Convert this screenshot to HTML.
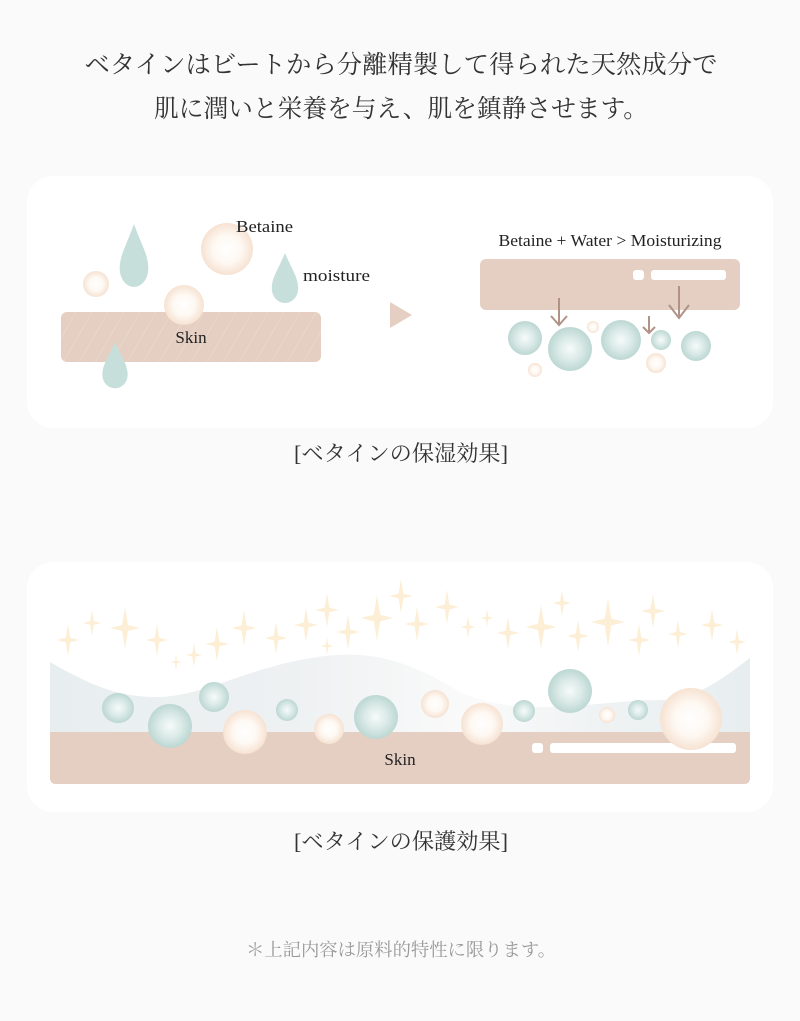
<!DOCTYPE html>
<html><head><meta charset="utf-8"><style>
html,body{margin:0;padding:0;background:#fafafa;}
body{width:800px;height:1016px;overflow:hidden;}
</style></head><body>
<svg width="800" height="1016" viewBox="0 0 800 1016" xmlns="http://www.w3.org/2000/svg">
<defs>
<radialGradient id="pe" cx="50%" cy="50%" r="50%"><stop offset="0" stop-color="#fff"/><stop offset="0.55" stop-color="#fef8f2"/><stop offset="1" stop-color="#f6e2d2"/></radialGradient>
<radialGradient id="te" cx="50%" cy="50%" r="50%"><stop offset="0" stop-color="#f6fbfa"/><stop offset="0.5" stop-color="#dcebe8"/><stop offset="1" stop-color="#bcd7d2"/></radialGradient>
<linearGradient id="band" x1="0" x2="1" y1="0" y2="0"><stop offset="0" stop-color="#e8eef0"/><stop offset="0.35" stop-color="#eef1f2"/><stop offset="0.6" stop-color="#fafafa"/><stop offset="0.8" stop-color="#eef2f3"/><stop offset="1" stop-color="#e8eef0"/></linearGradient>
<pattern id="hatch" width="16" height="50" patternUnits="userSpaceOnUse" patternTransform="skewX(-30)"><rect width="16" height="50" fill="#e5cfc2"/><line x1="0" y1="0" x2="0" y2="50" stroke="#efe0d7" stroke-width="1"/></pattern>
<path id="st" d="M0,-1 L0.14,-0.14 L0.7,0 L0.14,0.14 L0,1 L-0.14,0.14 L-0.7,0 L-0.14,-0.14Z" fill="#fcefd6"/>
<path id="drop" d="M0,-1 C0.25,-0.45 0.55,-0.1 0.55,0.3 C0.55,0.62 0.3,0.85 0,0.85 C-0.3,0.85 -0.55,0.62 -0.55,0.3 C-0.55,-0.1 -0.25,-0.45 0,-1Z" fill="#c7dfdb"/>
</defs>
<g font-family="'Liberation Serif','Noto Serif CJK SC',serif" fill="#333" text-anchor="middle">
<text x="401" y="73" font-size="25" textLength="633" lengthAdjust="spacingAndGlyphs">ベタインはビートから分離精製して得られた天然成分で</text>
<text x="401" y="117" font-size="25" textLength="494" lengthAdjust="spacingAndGlyphs">肌に潤いと栄養を与え、肌を鎮静させます。</text>
</g>
<!-- card 1 -->
<rect x="27" y="176" width="746" height="252" rx="26" fill="#fff"/>
<rect x="61" y="312" width="260" height="50" rx="6" fill="url(#hatch)"/>
<use href="#drop" transform="translate(134,258) scale(26,34)"/>
<use href="#drop" transform="translate(285,280) scale(24,27)"/>
<use href="#drop" transform="translate(115,367) scale(23,25)"/>
<circle cx="227" cy="249" r="26" fill="url(#pe)"/>
<circle cx="96" cy="284" r="13" fill="url(#pe)"/>
<circle cx="184" cy="305" r="20" fill="url(#pe)"/>
<g font-family="'Liberation Serif',serif" fill="#222" font-size="17">
<text x="236" y="232" textLength="57" lengthAdjust="spacingAndGlyphs">Betaine</text>
<text x="303" y="281" textLength="67" lengthAdjust="spacingAndGlyphs">moisture</text>
<text x="191" y="343" text-anchor="middle">Skin</text>
<text x="610" y="246" text-anchor="middle" textLength="223" lengthAdjust="spacingAndGlyphs">Betaine + Water &gt; Moisturizing</text>
<text x="610" y="291" text-anchor="middle">Skin</text>
</g>
<polygon points="390,302 412,315 390,328" fill="#e5cfc2"/>
<rect x="480" y="259" width="260" height="51" rx="6" fill="#e5cfc2"/>
<rect x="633" y="270" width="11" height="10" rx="3" fill="#fff"/>
<rect x="651" y="270" width="75" height="10" rx="3" fill="#fff"/>
<g stroke="#b19286" stroke-width="2" fill="none">
<path d="M559,298 V325 M551,316 L559,325 L567,316"/>
<path d="M679,286 V318 M669,305 L679,318 L689,305"/>
<path d="M649,316 V333 M643,327 L649,333 L655,327"/>
</g>
<circle cx="525" cy="338" r="17" fill="url(#te)"/>
<circle cx="570" cy="349" r="22" fill="url(#te)"/>
<circle cx="621" cy="340" r="20" fill="url(#te)"/>
<circle cx="661" cy="340" r="10" fill="url(#te)"/>
<circle cx="696" cy="346" r="15" fill="url(#te)"/>
<circle cx="593" cy="327" r="6" fill="url(#pe)"/>
<circle cx="535" cy="370" r="7" fill="url(#pe)"/>
<circle cx="656" cy="363" r="10" fill="url(#pe)"/>
<text x="401" y="461" font-family="'Liberation Serif','Noto Serif CJK SC',serif" font-size="22" fill="#333" text-anchor="middle" textLength="214" lengthAdjust="spacingAndGlyphs">[ベタインの保湿効果]</text>
<!-- card 2 -->
<rect x="27" y="562" width="746" height="250" rx="26" fill="#fff"/>
<path d="M50,662 C90,685 120,698 160,697 C200,696 240,672 300,660 C360,648 400,655 460,692 C520,720 600,700 660,700 C700,700 730,672 750,658 V740 H50Z" fill="url(#band)"/>
<path d="M50,732 H750 V778 Q750,784 744,784 H56 Q50,784 50,778Z" fill="#e5cfc2"/>
<g>
<use href="#st" transform="translate(68,640) scale(16)"/>
<use href="#st" transform="translate(92,623) scale(13)"/>
<use href="#st" transform="translate(125,628) scale(21)"/>
<use href="#st" transform="translate(157,640) scale(16)"/>
<use href="#st" transform="translate(176,662) scale(8)"/>
<use href="#st" transform="translate(194,655) scale(12)"/>
<use href="#st" transform="translate(217,644) scale(17)"/>
<use href="#st" transform="translate(244,628) scale(18)"/>
<use href="#st" transform="translate(276,638) scale(16)"/>
<use href="#st" transform="translate(306,625) scale(17)"/>
<use href="#st" transform="translate(327,610) scale(17)"/>
<use href="#st" transform="translate(327,646) scale(9)"/>
<use href="#st" transform="translate(348,632) scale(17)"/>
<use href="#st" transform="translate(377,618) scale(23)"/>
<use href="#st" transform="translate(401,596) scale(17)"/>
<use href="#st" transform="translate(417,624) scale(17)"/>
<use href="#st" transform="translate(447,607) scale(17)"/>
<use href="#st" transform="translate(468,627) scale(11)"/>
<use href="#st" transform="translate(487,618) scale(9)"/>
<use href="#st" transform="translate(508,633) scale(16)"/>
<use href="#st" transform="translate(541,627) scale(22)"/>
<use href="#st" transform="translate(562,603) scale(13)"/>
<use href="#st" transform="translate(578,636) scale(16)"/>
<use href="#st" transform="translate(608,622) scale(24)"/>
<use href="#st" transform="translate(639,640) scale(16)"/>
<use href="#st" transform="translate(653,611) scale(17)"/>
<use href="#st" transform="translate(678,634) scale(14)"/>
<use href="#st" transform="translate(712,625) scale(16)"/>
<use href="#st" transform="translate(737,642) scale(13)"/>
</g>
<rect x="532" y="743" width="11" height="10" rx="3" fill="#fff"/>
<rect x="550" y="743" width="186" height="10" rx="3" fill="#fff"/>
<ellipse cx="118" cy="708" rx="16" ry="15" fill="url(#te)"/>
<ellipse cx="170" cy="726" rx="22" ry="22" fill="url(#te)"/>
<ellipse cx="214" cy="697" rx="15" ry="15" fill="url(#te)"/>
<ellipse cx="287" cy="710" rx="11" ry="11" fill="url(#te)"/>
<ellipse cx="376" cy="717" rx="22" ry="22" fill="url(#te)"/>
<ellipse cx="524" cy="711" rx="11" ry="11" fill="url(#te)"/>
<ellipse cx="570" cy="691" rx="22" ry="22" fill="url(#te)"/>
<ellipse cx="638" cy="710" rx="10" ry="10" fill="url(#te)"/>
<ellipse cx="245" cy="732" rx="22" ry="22" fill="url(#pe)"/>
<ellipse cx="329" cy="729" rx="15" ry="15" fill="url(#pe)"/>
<ellipse cx="435" cy="704" rx="14" ry="14" fill="url(#pe)"/>
<ellipse cx="482" cy="724" rx="21" ry="21" fill="url(#pe)"/>
<ellipse cx="607" cy="715" rx="8" ry="8" fill="url(#pe)"/>
<ellipse cx="691" cy="719" rx="31" ry="31" fill="url(#pe)"/>
<text x="400" y="765" font-family="'Liberation Serif',serif" font-size="17" fill="#222" text-anchor="middle">Skin</text>
<text x="401" y="849" font-family="'Liberation Serif','Noto Serif CJK SC',serif" font-size="22" fill="#333" text-anchor="middle" textLength="214" lengthAdjust="spacingAndGlyphs">[ベタインの保護効果]</text>
<text x="401" y="956" font-family="'Liberation Serif','Noto Serif CJK SC',serif" font-size="18" fill="#999" text-anchor="middle" textLength="310" lengthAdjust="spacingAndGlyphs">＊上記内容は原料的特性に限ります。</text>
</svg>
</body></html>
